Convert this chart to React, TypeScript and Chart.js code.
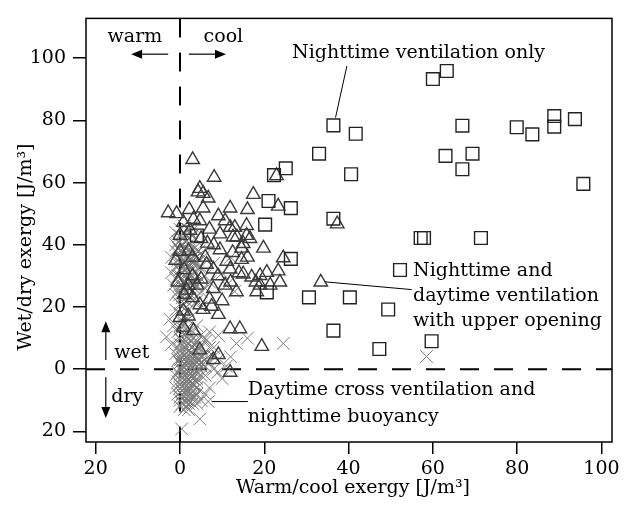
import React, { useEffect, useRef } from "react";
import { Chart, registerables } from "chart.js";

Chart.register(...registerables);

// ---------- data ----------
const xTickValues = [-20, 0, 20, 40, 60, 80, 100];
const yTickValues = [-20, 0, 20, 40, 60, 80, 100];
const xRange = [-22.3, 102.5];
const yRange = [-23.4, 112.8];

// Nighttime ventilation only (squares)
const squarePoints: [number, number][] = [
  [36.4, 78.4], [41.7, 75.7], [33.0, 69.3], [40.6, 62.7], [36.4, 48.4],
  [60.0, 93.3], [63.3, 95.9], [67.0, 78.3], [63.0, 68.6], [69.4, 69.3],
  [67.0, 64.3], [79.9, 77.8], [83.6, 75.5], [88.8, 81.4], [88.8, 78.0],
  [93.7, 80.4], [95.7, 59.6], [57.1, 42.2], [57.9, 42.2], [71.4, 42.2],
  [52.2, 31.9], [30.6, 23.1], [40.3, 23.1], [49.4, 19.2], [36.4, 12.4],
  [47.3, 6.5], [59.7, 9.0], [22.3, 62.4], [25.1, 64.6], [21.0, 54.1],
  [26.3, 51.8], [20.2, 46.5], [26.3, 35.5], [20.6, 24.7], [4.0, 43.0],
];

// Nighttime and daytime ventilation with upper opening (triangles)
const trianglePoints: [number, number][] = [
  [3.0, 67.4], [8.1, 61.7], [4.7, 58.1], [5.5, 56.5], [6.7, 55.0], [4.3, 57.0],
  [17.4, 56.2], [-2.8, 50.3], [-0.8, 50.0], [2.2, 51.3], [5.5, 51.8], [11.9, 51.8],
  [16.0, 51.3], [23.3, 52.4], [9.1, 49.3], [10.7, 47.7], [3.2, 48.2], [0.8, 47.2],
  [4.7, 47.7], [13.0, 45.6], [15.8, 46.2], [12.6, 42.5], [15.8, 43.0], [15.0, 40.4],
  [14.6, 38.9], [19.8, 38.9], [9.5, 38.4], [0.0, 43.0], [2.4, 44.6], [24.5, 35.8],
  [11.9, 45.6], [13.5, 42.5], [16.6, 42.0], [0.0, 37.9], [11.1, 34.7], [14.6, 35.3],
  [11.9, 32.2], [7.9, 32.2], [6.3, 33.7], [15.0, 30.6], [17.0, 29.6], [19.0, 30.1],
  [20.6, 31.1], [23.3, 31.6], [23.7, 28.0], [19.0, 27.0], [21.4, 27.0], [13.4, 24.9],
  [10.7, 27.0], [7.9, 25.9], [4.0, 27.0], [1.6, 25.4], [4.7, 20.7], [7.5, 20.2],
  [0.8, 18.7], [18.2, 24.9], [0.0, 16.6], [2.0, 17.1], [5.5, 19.2], [9.1, 17.6],
  [11.9, 13.0], [14.2, 13.0], [3.2, 12.4], [0.8, 13.5], [19.4, 7.3], [9.1, 4.7],
  [7.9, 3.1], [11.9, -1.0], [4.7, 6.2], [33.4, 28.0], [37.3, 46.7], [22.9, 62.2],
  [-1.0, 35.0], [1.0, 32.0], [2.0, 38.0], [3.0, 30.0], [-0.5, 28.0], [1.0, 24.0],
  [3.0, 23.0], [5.0, 29.0], [6.0, 36.0], [8.0, 40.0], [5.0, 42.0], [7.0, 45.0],
  [3.0, 36.0], [9.0, 30.0], [10.0, 22.0], [12.0, 28.0], [14.0, 31.0], [16.0, 36.0],
  [18.0, 28.0], [2.0, 27.0], [6.5, 40.5], [9.5, 43.5], [12.5, 37.5], [7.0, 22.5],
];

// Daytime cross ventilation and nighttime buoyancy (crosses)
const crossPoints: [number, number][] = [
  // upper cluster
  [-1, 44], [0, 43], [1, 44], [2, 42], [3, 43], [-0.5, 41], [0.5, 40], [1.5, 41],
  [2.5, 40], [3.5, 39], [-1, 38], [0, 38], [1, 37], [2, 38], [3, 37], [4, 36],
  [-0.5, 35], [0.5, 35], [1.5, 34], [2.5, 35], [3.5, 34], [-1, 33], [0, 32], [1, 32],
  [2, 31], [3, 32], [4, 31], [-0.5, 30], [0.5, 29], [1.5, 29], [2.5, 28], [3.5, 29],
  [0, 27], [1, 26], [2, 26], [3, 25], [-0.5, 25], [0.5, 23], [1.5, 22], [2.5, 23],
  [0, 21], [4, 27], [5, 33], [6, 30], [5, 25], [-2, 36], [-2, 31], [7, 28],
  [8, 34], [10, 31], [11, 27], [13, 25], [12, 36],
  [0, 45], [1, 46], [2, 45], [3, 46], [0.5, 42], [1.5, 43], [2.5, 44], [3.5, 42],
  [-0.5, 39], [0.5, 38], [1.5, 39], [2.5, 38], [3.5, 37], [0, 36], [1, 35], [2, 36],
  [3, 35], [4, 34], [0, 34], [1, 33], [2, 33], [3, 34], [0.5, 31], [1.5, 31],
  [2.5, 30], [3.5, 31], [0, 30], [1, 28], [2, 29], [3, 28], [0.5, 27], [1.5, 27],
  [2.5, 26], [3.5, 26], [0, 24], [1, 24], [2, 24], [3, 22], [0.5, 20], [1.5, 20],
  [-1, 40], [-1, 29], [-1, 24], [-1.5, 27], [4.5, 38], [4.5, 33], [5, 29], [5.5, 36],
  [6, 26], [4, 22], [5, 20],
  // middle
  [-1, 19], [0, 18], [1, 17], [2, 16], [0.5, 15], [-1.5, 14], [1.5, 13], [3, 12],
  [-0.5, 12], [0, 10], [2, 10], [-3.2, 10.4], [-2.4, 16.1], [4, 14], [5, 11], [7, 12],
  [6, 9], [8, 7], [9.1, 10.9], [13.4, 8.3], [16, 10], [12, 4], [11, 1], [24.5, 8.3],
  [58.5, 4.1], [2, 19], [1, 15], [0, 14],
  // lower cluster
  [0, 8], [1, 7], [2, 8], [3, 7], [4, 6], [0.5, 5], [1.5, 5], [2.5, 5], [3.5, 4],
  [5, 4], [0, 3], [1, 3], [2, 2], [3, 2], [4, 2], [6, 3], [0.5, 1], [1.5, 0],
  [2.5, 1], [3.5, 0], [5, 1], [7, 2], [0, 0], [1, -1], [2, -1], [3, -2], [4, -1],
  [0.5, -3], [1.5, -3], [2.5, -4], [0, -5], [1, -5], [2, -6], [3, -5], [0.5, -7],
  [1.5, -7], [2.5, -8], [0, -9], [1, -9], [2, -10], [3, -9], [4, -8], [5, -10],
  [0.5, -11], [1.5, -12], [8, 0], [9, 3], [10, -3], [6, -2], [4, -4], [0.4, -19.2],
  [4.7, -16], [6.7, -10.4], [-2, 8], [-1, 5], [-1, -2], [-1, -6],
  [0.5, 9], [1.5, 9], [2.5, 9], [3.5, 8], [4.5, 7], [0, 6], [1, 6], [2, 6], [3, 5],
  [4, 4], [5.5, 5], [0.5, 4], [1.5, 4], [2.5, 3], [3.5, 3], [4.5, 3], [0, 2], [1, 2],
  [2, 3], [3, 1], [4, 1], [5, 2], [6, 1], [0.5, 0], [1.5, 1], [2.5, 0], [3.5, -1],
  [4.5, 0], [5, -2], [0, -2], [1, -2], [2, -3], [3, -3], [4, -3], [0.5, -4], [1.5, -4],
  [2.5, -5], [3.5, -5], [0, -6], [1, -6], [2, -7], [3, -7], [4, -6], [0.5, -8],
  [1.5, -8], [2.5, -9], [3.5, -9], [0, -10], [1, -10], [2, -11], [3, -11], [1, -13],
  [0, -12], [2, -13], [4, -11], [6, -8], [7, -6], [6, 5], [7, 7], [8, 4], [9, -1],
  [5, 7], [6, 10], [3, 10], [4, 9], [2, 12], [1, 11], [0, 13], [-0.5, 7], [-0.5, 3],
  [-0.5, -1], [-0.5, -4], [-0.5, -8],
];

const xAxisTitle = "Warm/cool exergy [J/m\u00b3]";
const yAxisTitle = "Wet/dry exergy [J/m\u00b3]";

// ---------- annotation layout (in data coordinates) ----------
const FONT = "DejaVu Serif";
const FS = 19;

const labels = [
  { text: "warm", x: -10.7, y: 106.9, align: "center" },
  { text: "cool", x: 10.3, y: 106.9, align: "center" },
  { text: "Nighttime ventilation only", x: 26.6, y: 101.6, align: "left" },
  { text: "Nighttime and", x: 55.3, y: 31.7, align: "left" },
  { text: "daytime ventilation", x: 55.3, y: 23.6, align: "left" },
  { text: "with upper opening", x: 55.3, y: 15.5, align: "left" },
  { text: "Daytime cross ventilation and", x: 16.1, y: -6.6, align: "left" },
  { text: "nighttime buoyancy", x: 16.1, y: -15.3, align: "left" },
  { text: "wet", x: -15.6, y: 5.2, align: "left" },
  { text: "dry", x: -16.3, y: -9.1, align: "left" },
];

const leaders = [
  { x1: 39.6, y1: 97.5, x2: 36.9, y2: 80.9 },
  { x1: 55.0, y1: 25.6, x2: 34.4, y2: 28.1 },
  { x1: 7.5, y1: -10.4, x2: 16.1, y2: -10.4 },
];

const arrows = [
  { x1: -2.8, y1: 101.3, x2: -11.6, y2: 101.3 },
  { x1: 2.1, y1: 101.3, x2: 10.9, y2: 101.3 },
  { x1: -17.6, y1: 3.0, x2: -17.6, y2: 15.4 },
  { x1: -17.6, y1: -2.6, x2: -17.6, y2: -15.7 },
];

const overlayPlugin = {
  id: "overlay",
  beforeDatasetsDraw(chart: any) {
    const { ctx, chartArea: a, scales } = chart;
    const xs = scales.x;
    const ys = scales.y;
    ctx.save();
    ctx.strokeStyle = "#000";
    ctx.lineWidth = 2;
    ctx.setLineDash([19, 15]);
    const x0 = xs.getPixelForValue(0);
    const y0 = ys.getPixelForValue(0);
    ctx.beginPath();
    ctx.moveTo(x0, a.top);
    ctx.lineTo(x0, a.bottom);
    ctx.stroke();
    ctx.beginPath();
    ctx.moveTo(a.left, y0);
    ctx.lineTo(a.right, y0);
    ctx.stroke();
    ctx.restore();
  },
  afterDraw(chart: any) {
    const { ctx, chartArea: a, scales } = chart;
    const xs = scales.x;
    const ys = scales.y;
    const px = (v: number) => xs.getPixelForValue(v);
    const py = (v: number) => ys.getPixelForValue(v);
    ctx.save();
    // frame
    ctx.strokeStyle = "#000";
    ctx.lineWidth = 1.5;
    ctx.strokeRect(a.left, a.top, a.right - a.left, a.bottom - a.top);

    // texts
    ctx.fillStyle = "#000";
    ctx.font = `${FS}px "${FONT}"`;
    ctx.textBaseline = "middle";
    for (const l of labels) {
      ctx.textAlign = l.align as CanvasTextAlign;
      ctx.fillText(l.text, px(l.x), py(l.y));
    }

    // leader lines
    ctx.lineWidth = 1;
    for (const s of leaders) {
      ctx.beginPath();
      ctx.moveTo(px(s.x1), py(s.y1));
      ctx.lineTo(px(s.x2), py(s.y2));
      ctx.stroke();
    }

    // arrows
    for (const r of arrows) {
      const X1 = px(r.x1), Y1 = py(r.y1), X2 = px(r.x2), Y2 = py(r.y2);
      const ang = Math.atan2(Y2 - Y1, X2 - X1);
      const hl = 11, hw = 4.5;
      const bx = X2 - Math.cos(ang) * hl, by = Y2 - Math.sin(ang) * hl;
      ctx.lineWidth = 1.2;
      ctx.beginPath();
      ctx.moveTo(X1, Y1);
      ctx.lineTo(bx, by);
      ctx.stroke();
      ctx.beginPath();
      ctx.moveTo(X2, Y2);
      ctx.lineTo(bx - Math.sin(ang) * hw, by + Math.cos(ang) * hw);
      ctx.lineTo(bx + Math.sin(ang) * hw, by - Math.cos(ang) * hw);
      ctx.closePath();
      ctx.fill();
    }

    // axis titles
    ctx.textAlign = "center";
    ctx.fillText(xAxisTitle, (a.left + a.right) / 2 + 4, 488);
    ctx.translate(26, 247);
    ctx.rotate(-Math.PI / 2);
    ctx.fillText(yAxisTitle, 0, 0);
    ctx.restore();
  },
};

export default function App() {
  const ref = useRef<HTMLCanvasElement | null>(null);

  useEffect(() => {
    document.body.style.margin = "0";
    const canvas = ref.current;
    if (!canvas) return;
    const toXY = (p: [number, number][]) => p.map(([x, y]) => ({ x, y }));
    const tickFont = { family: FONT, size: FS };
    const chart = new Chart(canvas, {
      type: "scatter",
      data: {
        datasets: [
          {
            label: "Nighttime ventilation only",
            data: toXY(squarePoints),
            pointStyle: "rect",
            pointRadius: 9,
            borderColor: "#222",
            backgroundColor: "rgba(0,0,0,0)",
            borderWidth: 1.4,
          },
          {
            label: "Nighttime and daytime ventilation with upper opening",
            data: toXY(trianglePoints),
            pointStyle: "triangle",
            pointRadius: 7.8,
            borderColor: "#3a3a3a",
            backgroundColor: "rgba(0,0,0,0)",
            borderWidth: 1.4,
          },
          {
            label: "Daytime cross ventilation and nighttime buoyancy",
            data: toXY(crossPoints),
            pointStyle: "crossRot",
            pointRadius: 9,
            borderColor: "#7a7a7a",
            backgroundColor: "rgba(0,0,0,0)",
            borderWidth: 1,
          },
        ],
      },
      options: {
        animation: false,
        responsive: false,
        devicePixelRatio: 1,
        events: [],
        layout: { padding: { left: 0, right: 15, top: 4, bottom: 0 } },
        plugins: { legend: { display: false }, tooltip: { enabled: false } },
        scales: {
          x: {
            type: "linear",
            min: xRange[0],
            max: xRange[1],
            afterBuildTicks: (s: any) => {
              s.ticks = xTickValues.map((v) => ({ value: v }));
            },
            afterFit: (s: any) => {
              s.height = 65;
            },
            ticks: {
              color: "#000",
              font: tickFont,
              padding: 4,
              maxRotation: 0,
              autoSkip: false,
              callback: (v: any) => String(Math.abs(Number(v))),
            },
            grid: {
              drawOnChartArea: false,
              drawTicks: true,
              tickLength: 12,
              color: "#000",
              lineWidth: 1.5,
            },
            border: { display: false },
          },
          y: {
            type: "linear",
            min: yRange[0],
            max: yRange[1],
            afterBuildTicks: (s: any) => {
              s.ticks = yTickValues.map((v) => ({ value: v }));
            },
            afterFit: (s: any) => {
              s.width = 86;
            },
            ticks: {
              color: "#000",
              font: tickFont,
              padding: 7,
              autoSkip: false,
              callback: (v: any) => String(Math.abs(Number(v))),
            },
            grid: {
              drawOnChartArea: false,
              drawTicks: true,
              tickLength: 13,
              color: "#000",
              lineWidth: 1.5,
            },
            border: { display: false },
          },
        },
      },
      plugins: [overlayPlugin],
    });
    return () => chart.destroy();
  }, []);

  return (
    <div style={{ width: 627, height: 507, background: "#fff" }}>
      <canvas ref={ref} width={627} height={507} style={{ display: "block" }} />
    </div>
  );
}
